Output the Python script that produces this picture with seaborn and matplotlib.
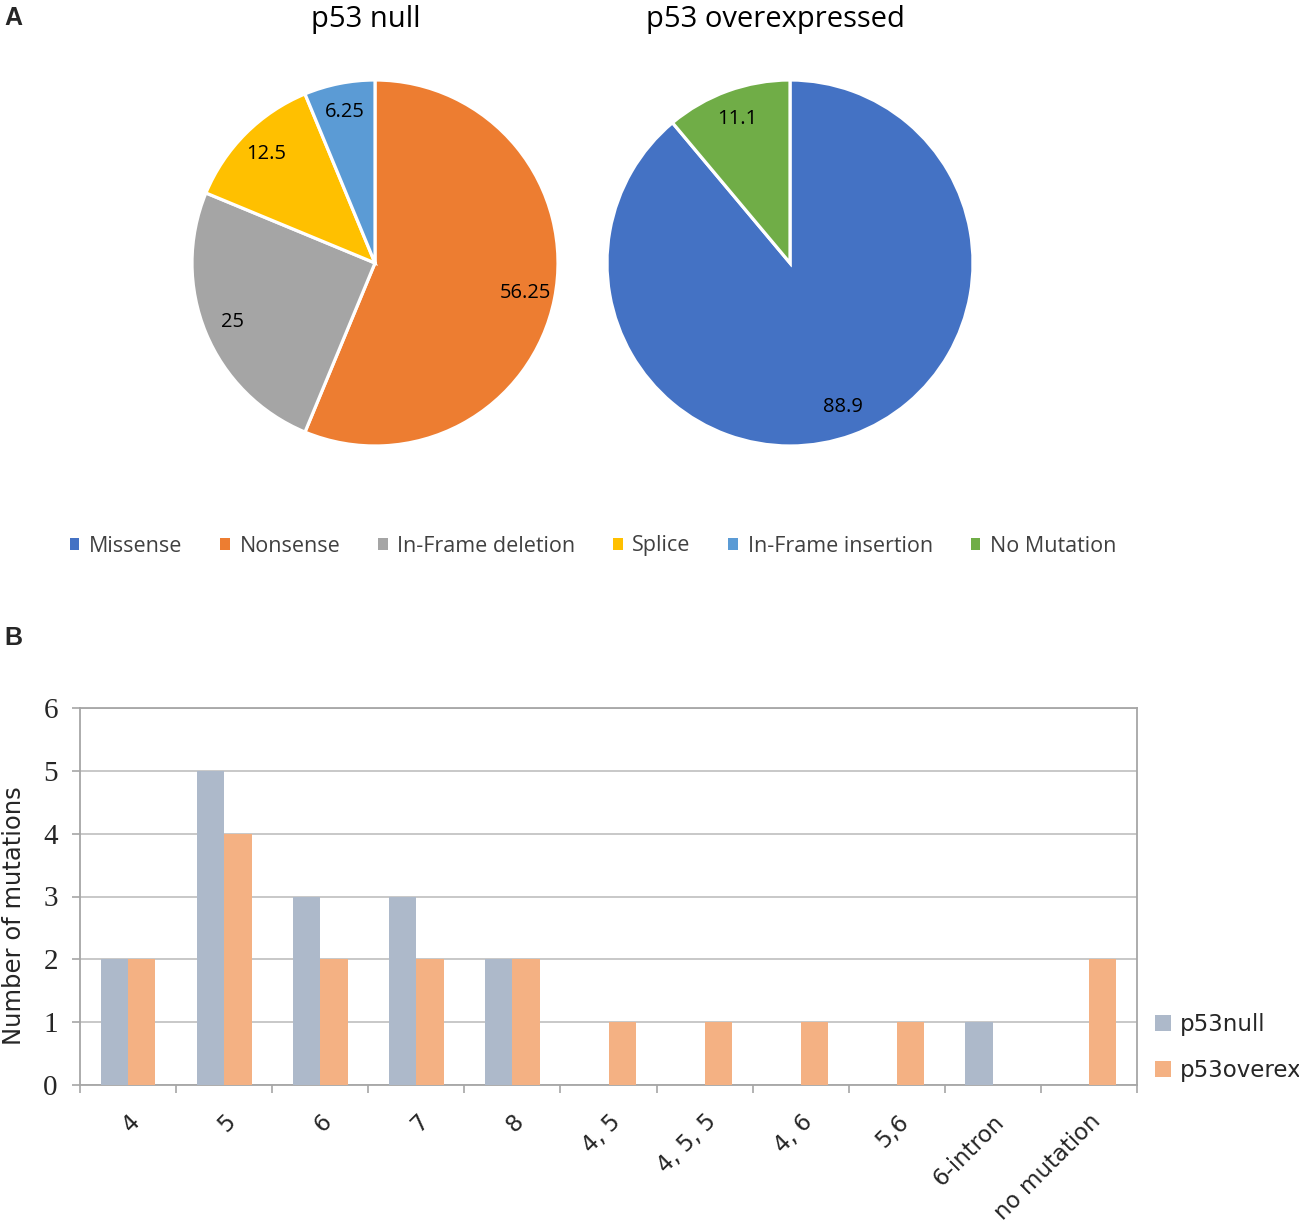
import matplotlib
matplotlib.use("Agg")
import matplotlib.pyplot as plt
from matplotlib.patches import Patch
import seaborn as sns
import pandas as pd
import numpy as np

# ---------------- data ----------------
mutation_types = ["Missense", "Nonsense", "In-Frame deletion", "Splice",
                  "In-Frame insertion", "No Mutation"]
type_colors = ["#4472C4", "#ED7D31", "#A5A5A5", "#FFC000", "#5B9BD5", "#70AD47"]

null_values = [0, 56.25, 25, 12.5, 6.25, 0]
over_values = [88.9, 0, 0, 0, 0, 11.1]

exons = ["4", "5", "6", "7", "8", "4, 5", "4, 5, 5", "4, 6", "5,6", "6-intron", "no mutation"]
p53null_counts = [2, 5, 3, 3, 2, 0, 0, 0, 0, 1, 0]
p53overex_counts = [2, 4, 2, 2, 2, 1, 1, 1, 1, 0, 2]
groups = ["p53null", "p53overex"]
group_colors = ["#ADB9CA", "#F4B183"]

# ---------------- figure ----------------
sns.set_theme(style="white")
plt.rcParams["font.family"] = ["Open Sans", "DejaVu Sans"]

W, H = 1299, 1225
fig = plt.figure(figsize=(W / 100, H / 100), dpi=100)


def px_axes(cx, cy, r):
    return fig.add_axes([(cx - r) / W, 1 - (cy + r) / H, 2 * r / W, 2 * r / H])


def draw_pie(ax, values, title_text, title_x):
    vals = [v for v in values if v > 0]
    cols = [c for v, c in zip(values, type_colors) if v > 0]
    labels = [f"{v:g}" for v in vals]
    wedges, texts, autotexts = ax.pie(
        vals, colors=cols, startangle=90, counterclock=False,
        autopct="%1.1f", pctdistance=0.84,
        wedgeprops=dict(edgecolor="white", linewidth=2.3),
        textprops=dict(fontsize=14.5, color="black"))
    for t, lab in zip(autotexts, labels):
        t.set_text(lab)
    ax.set_xlim(-1.0, 1.0)
    ax.set_ylim(-1.0, 1.0)
    ax.set_aspect("equal")
    fig.text(title_x / W, 1 - 20 / H, title_text, ha="center", va="center",
             fontsize=21, color="black")


ax1 = px_axes(375, 263, 183)
draw_pie(ax1, null_values, "p53 null", 366)
ax2 = px_axes(790, 263, 183)
draw_pie(ax2, over_values, "p53 overexpressed", 775)

# pie legend
handles = [Patch(facecolor=c, edgecolor="none") for c in type_colors]
fig.legend(handles, mutation_types, loc="center", ncol=6,
           bbox_to_anchor=(593 / W, 1 - 546 / H), frameon=False,
           fontsize=15.5, handlelength=0.45, handleheight=0.45,
           handletextpad=0.45, columnspacing=1.75, labelcolor="#404040")

# panel letters
fig.text(4 / W, 1 - 18 / H, "A", fontsize=18, fontweight="bold",
         va="center", ha="left", family=["Liberation Sans", "DejaVu Sans"])
fig.text(4 / W, 1 - 638 / H, "B", fontsize=18, fontweight="bold",
         va="center", ha="left", family=["Liberation Sans", "DejaVu Sans"])

# ---------------- bar chart ----------------
df = pd.DataFrame({
    "exon": exons * 2,
    "count": p53null_counts + p53overex_counts,
    "group": [groups[0]] * len(exons) + [groups[1]] * len(exons),
})

axb = fig.add_axes([80 / W, 1 - 1085 / H, (1137 - 80) / W, (1085 - 708) / H])
sns.barplot(data=df, x="exon", y="count", hue="group", order=exons,
            hue_order=groups, palette=group_colors, width=0.57,
            saturation=1, linewidth=0, ax=axb, zorder=3)

axb.set_ylim(0, 6)
axb.set_xlim(-0.5, len(exons) - 0.5)
axb.set_yticks(range(0, 7))
axb.yaxis.grid(True, color="#BFBFBF", linewidth=1.2, zorder=0)
axb.set_axisbelow(True)
for s in axb.spines.values():
    s.set_color("#A6A6A6")
    s.set_linewidth(1.3)

axb.set_yticklabels([str(i) for i in range(0, 7)],
                    family=["Liberation Serif", "DejaVu Serif"], fontsize=21)
axb.tick_params(axis="y", length=6, color="#A6A6A6", width=1.2, pad=10,
                left=True)
axb.set_xticks(range(len(exons)))
axb.set_xticklabels(exons, rotation=45, ha="right", rotation_mode="anchor",
                    family=["DejaVu Sans"], fontsize=16.5)
axb.tick_params(axis="x", which="major", length=0, pad=18)
axb.set_xticks(np.arange(-0.5, len(exons), 1.0), minor=True)
axb.tick_params(axis="x", which="minor", length=6, color="#A6A6A6",
                width=1.2, bottom=True)

axb.set_xlabel("")
axb.set_ylabel("Number of mutations", family=["DejaVu Sans"], fontsize=17.5)
axb.yaxis.set_label_coords(-54 / (1137 - 80), 0.45)

axb.legend(loc="center left", bbox_to_anchor=(1.0, 0.1), frameon=False,
           prop=dict(family="DejaVu Sans", size=16.5), handlelength=0.7,
           handleheight=0.7, handletextpad=0.35, labelspacing=1.0,
           borderaxespad=0.4)

fig.savefig("out.png", dpi=100)
